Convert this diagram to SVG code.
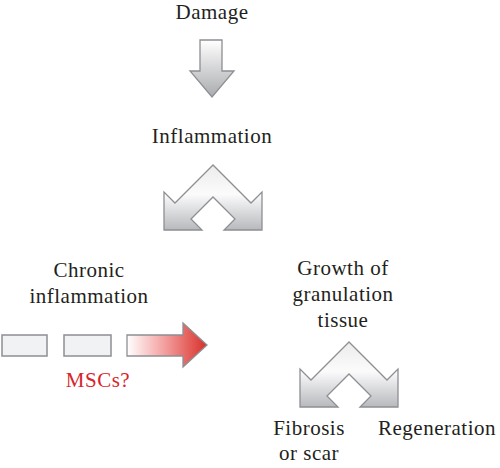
<svg xmlns="http://www.w3.org/2000/svg" width="500" height="468" viewBox="0 0 500 468">
<style>
text{font-family:"Liberation Serif","DejaVu Serif","Noto Serif",serif;font-size:21px;fill:#231f20;text-anchor:middle;letter-spacing:0.5px}
.red{fill:#d7262b}
.box{fill:#f1f2f4;stroke:#8d8f92;stroke-width:1.5}
.garrow{stroke:#8d8f92;stroke-width:1.3;stroke-linejoin:miter}
</style>
<defs>
<linearGradient id="gDown" x1="0" y1="0" x2="0" y2="1">
<stop offset="0" stop-color="#ffffff"/>
<stop offset="1" stop-color="#a9abae"/>
</linearGradient>
<linearGradient id="gSplit" x1="0" y1="0" x2="0" y2="1">
<stop offset="0" stop-color="#ececed"/>
<stop offset="0.45" stop-color="#fbfbfc"/>
<stop offset="1" stop-color="#b7b9bc"/>
</linearGradient>
<linearGradient id="gRed" x1="0" y1="0" x2="1" y2="0">
<stop offset="0" stop-color="#ffffff"/>
<stop offset="0.45" stop-color="#f4a3a3"/>
<stop offset="1" stop-color="#d8302a"/>
</linearGradient>
<path id="split" d="M213,165 L175,203 L164,192 L164,230 L202,230 L191,219 L213,197 L235,219 L224,230 L262,230 L262,192 L251,203 Z"/>
</defs>
<g id="damage"><text x="212" y="19" font-family="Liberation Serif, serif">Damage</text></g>
<g id="inflammation"><text x="212" y="143">Inflammation</text></g>
<g id="chronic"><text x="89" y="277">Chronic</text><text x="89" y="303">inflammation</text></g>
<g id="granulation"><text x="343" y="275">Growth of</text><text x="343" y="301">granulation</text><text x="343" y="327">tissue</text></g>
<g id="fibrosis"><text x="309" y="435">Fibrosis</text><text x="309" y="460">or scar</text></g>
<g id="regeneration"><text x="437" y="435">Regeneration</text></g>
<g id="mscs"><text class="red" x="98" y="387">MSCs?</text></g>
<g id="connectors">
<path class="garrow" fill="url(#gDown)" d="M200,40 L222,40 L222,71 L234,71 L212,97 L190,71 L200,71 Z"/>
<use href="#split" class="garrow" fill="url(#gSplit)"/>
<use href="#split" class="garrow" fill="url(#gSplit)" transform="translate(136,177)"/>
<rect class="box" x="2" y="335" width="45" height="21"/>
<rect class="box" x="64" y="335" width="47" height="21"/>
<path class="garrow" fill="url(#gRed)" d="M127,335 L183,335 L183,323 L207,345 L183,367 L183,356 L127,356 Z"/>
</g>
</svg>
